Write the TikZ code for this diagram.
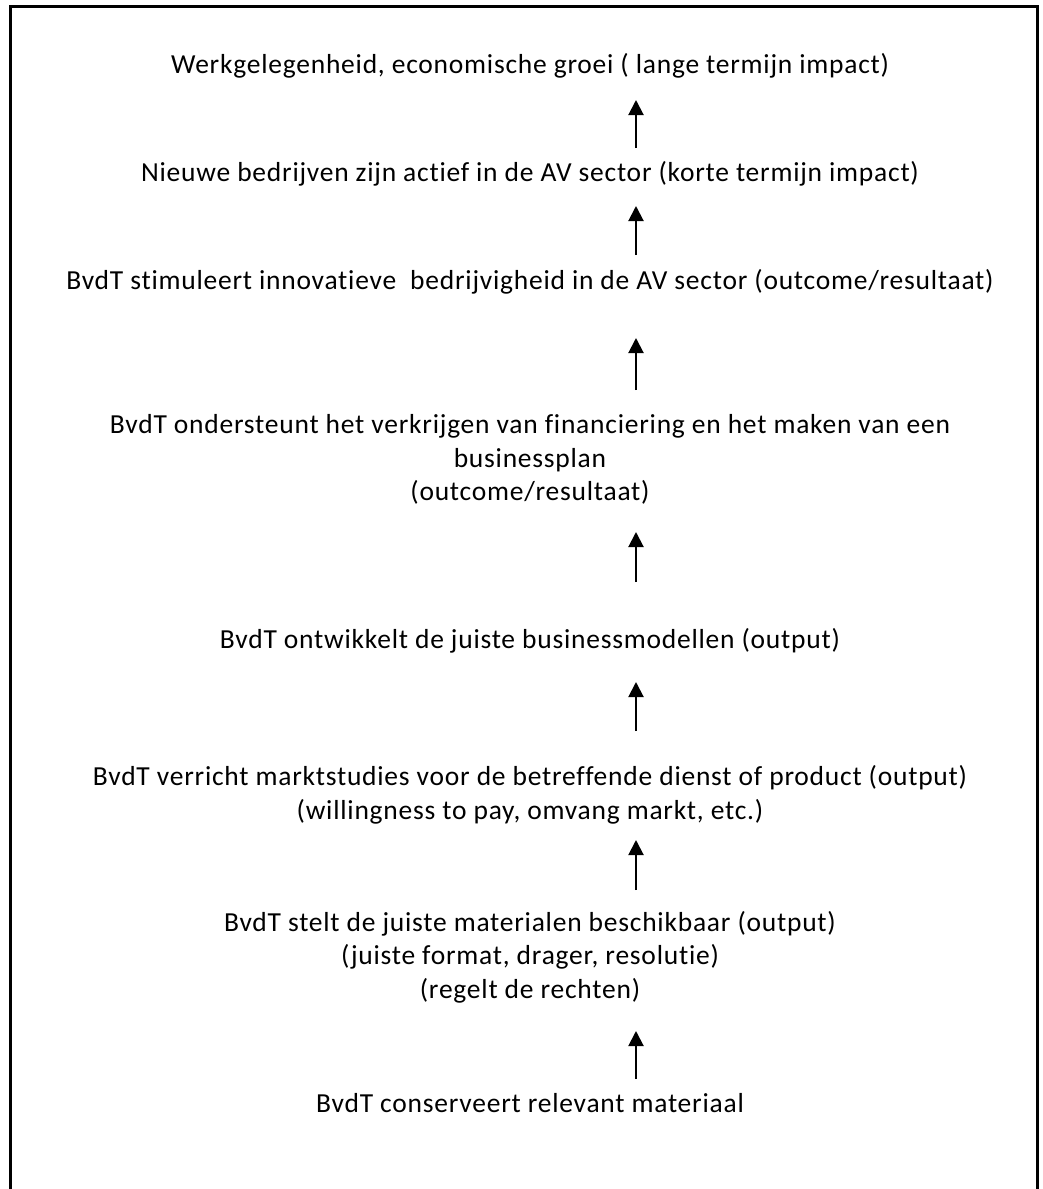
\documentclass[tikz,border=0pt]{standalone}
\usepackage{fontspec}
\setmainfont{Carlito}[Ligatures=NoCommon,LetterSpace=2.8]
\usetikzlibrary{arrows.meta}
\begin{document}
\begin{tikzpicture}[x=1pt,y=-1pt,
  lbl/.style={anchor=base,inner sep=0pt,font=\fontsize{27.5}{33.5}\selectfont},
  up/.style={-{Triangle[length=15pt,width=15pt]},line width=2pt}]
\useasboundingbox (0,0) rectangle (1042,1189);
\draw[line width=3pt] (1200,1200) -- (10,1200) -- (10,6.5) -- (1037.5,6.5) -- (1037.5,1200);
\node[lbl] (n1) at (530,73) {Werkgelegenheid, economische groei ( lange termijn impact)};
\node[lbl] (n2) at (530,181) {Nieuwe bedrijven zijn actief in de AV sector (korte termijn impact)};
\node[lbl] (n3) at (530,289) {BvdT stimuleert innovatieve\ \ bedrijvigheid in de AV sector (outcome/resultaat)};
\node[lbl] (n4a) at (530,433.5) {BvdT ondersteunt het verkrijgen van financiering en het maken van een};
\node[lbl] (n4b) at (530,467) {businessplan};
\node[lbl] (n4c) at (530,500.5) {(outcome/resultaat)};
\node[lbl] (n5) at (530,648) {BvdT ontwikkelt de juiste businessmodellen (output)};
\node[lbl] (n6a) at (530,785.5) {BvdT verricht marktstudies voor de betreffende dienst of product (output)};
\node[lbl] (n6b) at (530,819) {(willingness to pay, omvang markt, etc.)};
\node[lbl] (n7a) at (530,931) {BvdT stelt de juiste materialen beschikbaar (output)};
\node[lbl] (n7b) at (530,964.5) {(juiste format, drager, resolutie)};
\node[lbl] (n7c) at (530,998) {(regelt de rechten)};
\node[lbl] (n8) at (530,1112) {BvdT conserveert relevant materiaal};
\coordinate (a1s) at (636,148); \coordinate (a1e) at (636,100);
\coordinate (a2s) at (636,255); \coordinate (a2e) at (636,206);
\coordinate (a3s) at (636,390); \coordinate (a3e) at (636,338);
\coordinate (a4s) at (636,582); \coordinate (a4e) at (636,532);
\coordinate (a5s) at (636,731); \coordinate (a5e) at (636,682);
\coordinate (a6s) at (636,890); \coordinate (a6e) at (636,840);
\coordinate (a7s) at (636,1079); \coordinate (a7e) at (636,1031);
\draw[up] (a1s) -- (a1e);
\draw[up] (a2s) -- (a2e);
\draw[up] (a3s) -- (a3e);
\draw[up] (a4s) -- (a4e);
\draw[up] (a5s) -- (a5e);
\draw[up] (a6s) -- (a6e);
\draw[up] (a7s) -- (a7e);
\end{tikzpicture}
\end{document}
